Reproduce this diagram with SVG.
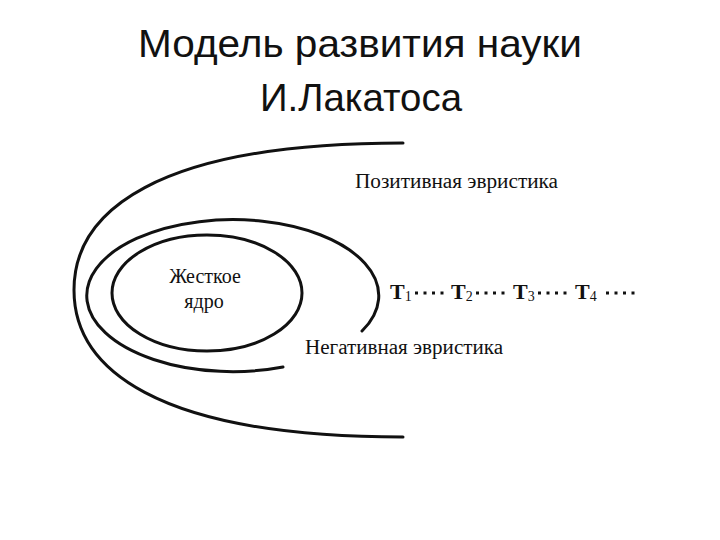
<svg xmlns="http://www.w3.org/2000/svg" width="720" height="540" viewBox="0 0 720 540">
<style>
.title{font-family:"Liberation Sans","DejaVu Sans",sans-serif;font-size:39px;fill:#111;text-anchor:middle}
.lbl{font-family:"Liberation Serif","DejaVu Serif",serif;font-size:20px;fill:#111}
.t{font-family:"Liberation Serif","DejaVu Serif",serif;font-size:22px;font-weight:bold;fill:#111}
.sub{font-size:14px;font-weight:normal}
.curve{fill:none;stroke:#111;stroke-width:3;stroke-linecap:round}
.dots{stroke:#111;stroke-width:3;stroke-dasharray:3 5.5}
</style>
<rect width="720" height="540" fill="#fff"/>
<g id="title">
<text class="title" x="360" y="57" textLength="444" lengthAdjust="spacingAndGlyphs">Модель развития науки</text>
<text class="title" x="361" y="111" textLength="202" lengthAdjust="spacingAndGlyphs">И.Лакатоса</text>
</g>
<g id="outer-belt">
<path class="curve" d="M403,143 C153,143 74,213 74,290 C74,367 153,437 403,437"/>
<text class="lbl" x="355" y="188" textLength="203" lengthAdjust="spacingAndGlyphs">Позитивная эвристика</text>
</g>
<g id="protective-belt">
<path class="curve" d="M362,331 A146,76 0 1 0 283,367"/>
<text class="lbl" x="305" y="354" textLength="198" lengthAdjust="spacingAndGlyphs">Негативная эвристика</text>
</g>
<g id="hard-core">
<ellipse class="curve" cx="207" cy="293" rx="95" ry="58"/>
<text class="lbl" x="205" y="283" text-anchor="middle">Жесткое</text>
<text class="lbl" x="204" y="308" text-anchor="middle">ядро</text>
</g>
<g id="T1"><text class="t" x="390" y="299">T<tspan class="sub" dy="2">1</tspan></text></g>
<g id="T2"><text class="t" x="451" y="299">T<tspan class="sub" dy="2">2</tspan></text></g>
<g id="T3"><text class="t" x="513" y="299">T<tspan class="sub" dy="2">3</tspan></text></g>
<g id="T4"><text class="t" x="575" y="299">T<tspan class="sub" dy="2">4</tspan></text></g>
<g id="connectors">
<line class="dots" x1="415" y1="293" x2="444" y2="293"/>
<line class="dots" x1="476" y1="293" x2="505" y2="293"/>
<line class="dots" x1="538" y1="293" x2="567" y2="293"/>
<line class="dots" x1="606" y1="293" x2="635" y2="293"/>
</g>
</svg>
